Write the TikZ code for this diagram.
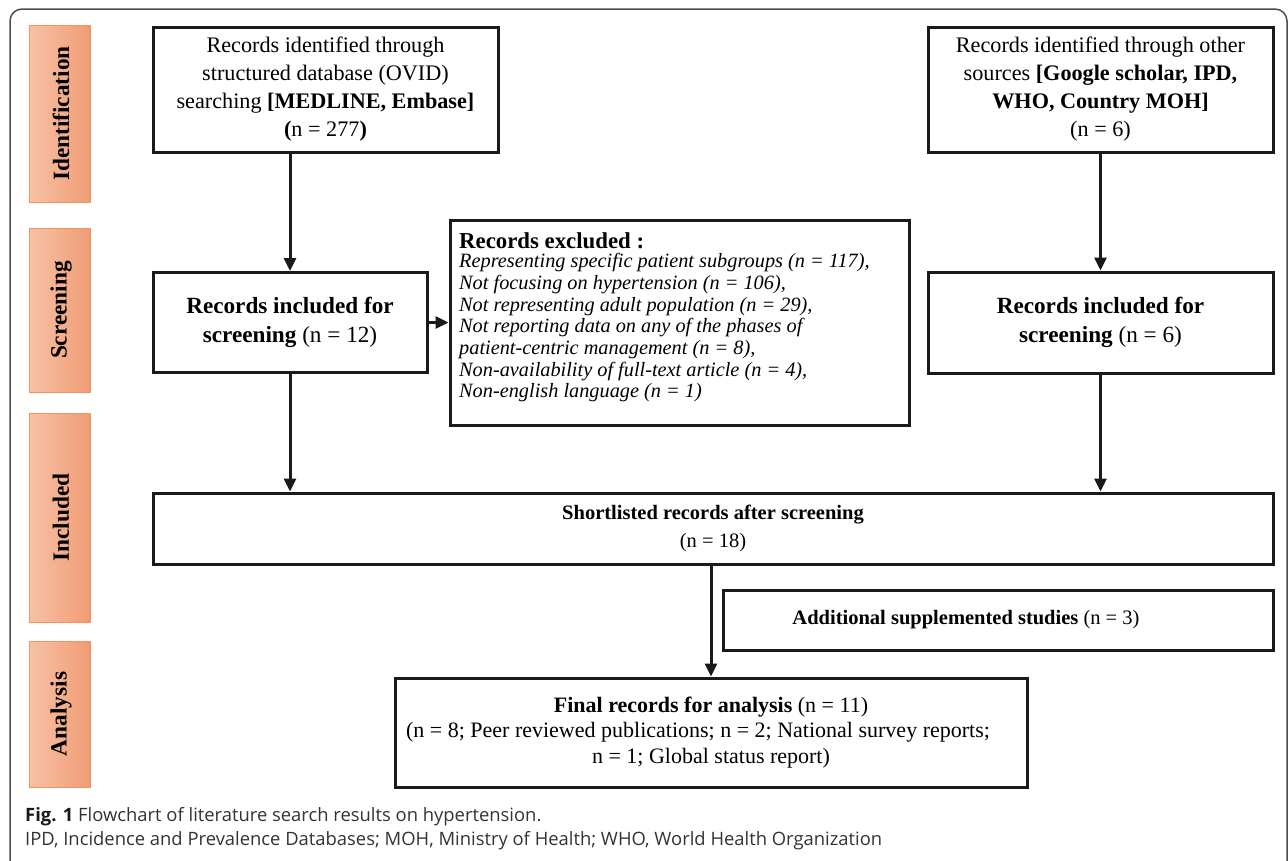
\documentclass[tikz,border=0pt]{standalone}
\usepackage{fontspec}
\setmainfont{Liberation Serif}
\newfontfamily\capfont{Open Sans}
\usetikzlibrary{arrows.meta}
\definecolor{lblL}{HTML}{F7C2A6}
\definecolor{lblR}{HTML}{F09C74}
\definecolor{lblB}{HTML}{F2925E}
\definecolor{ink}{HTML}{1A1A1A}
\begin{document}
\begin{tikzpicture}[x=1pt,y=-1pt,
  box/.style={draw=ink,line width=3pt,inner sep=0pt,align=center,
    font=\fontsize{22.2}{28}\selectfont},
  arr/.style={draw=ink,line width=3pt,-{Triangle[length=13pt,width=12pt]}},
  lbltxt/.style={rotate=90,font=\fontsize{23.3}{26}\selectfont\bfseries},
  lblbox/.style={draw=lblB,line width=1pt,left color=lblL,right color=lblR}]
\useasboundingbox (0,0) rectangle (1288,860);
\clip (0,0) rectangle (1288,860);
% outer frame
\draw[line width=1.5pt,black!70,rounded corners=12pt] (10,9) rectangle (1287,880);
% stage labels
\path[lblbox] (29,25) rectangle (90,202);
\node[lbltxt] (lid) at (61,113.5) {Identification};
\path[lblbox] (29,228) rectangle (90,392);
\node[lbltxt] (lsc) at (61,310) {Screening};
\path[lblbox] (29,413) rectangle (90,622);
\node[lbltxt] (lin) at (61,517.5) {Included};
\path[lblbox] (29,641) rectangle (90,787);
\node[lbltxt] (lan) at (61,714) {Analysis};
% boxes
\node[box,minimum width=345,minimum height=125] (A) at (325.5,89.5)
  {Records identified through\\structured database (OVID)\\searching \textbf{[MEDLINE, Embase]}\\\textbf{(}n = 277\textbf{)}};
\node[box,minimum width=345,minimum height=125] (B) at (1100.5,89.5)
  {Records identified through other\\sources \textbf{[Google scholar, IPD,}\\\textbf{WHO, Country MOH]}\\(n = 6)};
\node[box,minimum width=274,minimum height=100,font=\fontsize{23.2}{29}\selectfont] (C) at (290,322.5)
  {\textbf{Records included for}\\\textbf{screening} (n = 12)};
\node[box,minimum width=345,minimum height=101,font=\fontsize{23.2}{29}\selectfont] (D) at (1100.5,322.5)
  {\textbf{Records included for}\\\textbf{screening} (n = 6)};
\node[box,minimum width=459,minimum height=205] (E) at (679.5,322.5) {};
\node[anchor=north west,align=left,inner sep=0pt,
  font=\fontsize{20.3}{21.7}\selectfont] (Et) at (459,232)
  {{\fontsize{22.8}{22}\selectfont\textbf{Records excluded :}}\\[-2pt]
   \textit{Representing specific patient subgroups (n = 117),}\\
   \textit{Not focusing on hypertension (n = 106),}\\
   \textit{Not representing adult population (n = 29),}\\
   \textit{Not reporting data on any of the phases of}\\
   \textit{patient-centric management (n = 8),}\\
   \textit{Non-availability of full-text article (n = 4),}\\
   \textit{Non-english language (n = 1)}};
\node[box,minimum width=1120,minimum height=71,font=\fontsize{20.5}{27}\selectfont] (S) at (713,528.5)
  {\textbf{Shortlisted records after screening}\\[1pt](n = 18)};
\node[box,minimum width=550,minimum height=60,font=\fontsize{20.5}{27}\selectfont] (T) at (998,620)
  {\textbf{Additional supplemented studies} (n = 3)\hspace*{64pt}};
\node[box,minimum width=632,minimum height=109,font=\fontsize{22}{25.5}\selectfont] (F) at (711,732.5)
  {\textbf{Final records for analysis} (n = 11)\\\mbox{(n = 8; Peer reviewed publications; n = 2; National survey reports;\hspace*{26pt}}\\n = 1; Global status report)};
% connectors
\draw[arr] (A.south -| C.north) -- (C.north);
\draw[arr] (B.south) -- (D.north);
\draw[arr] (C.east) -- (E.west |- C.east);
\draw[arr] (C.south) -- (C.south |- S.north);
\draw[arr] (D.south) -- (D.south |- S.north);
\draw[arr] (S.south -| F.north) -- (F.north);
% caption
\node[anchor=base west,inner sep=0pt,text=black!80,font=\capfont\fontsize{18.4}{22}\selectfont] (cap1) at (25,821)
  {{\color{black!90}\bfseries Fig. 1} Flowchart of literature search results on hypertension.};
\node[anchor=base west,inner sep=0pt,text=black!80,font=\capfont\fontsize{18.4}{22}\selectfont] (cap2) at (25,845)
  {IPD, Incidence and Prevalence Databases; MOH, Ministry of Health; WHO, World Health Organization};
\end{tikzpicture}
\end{document}
